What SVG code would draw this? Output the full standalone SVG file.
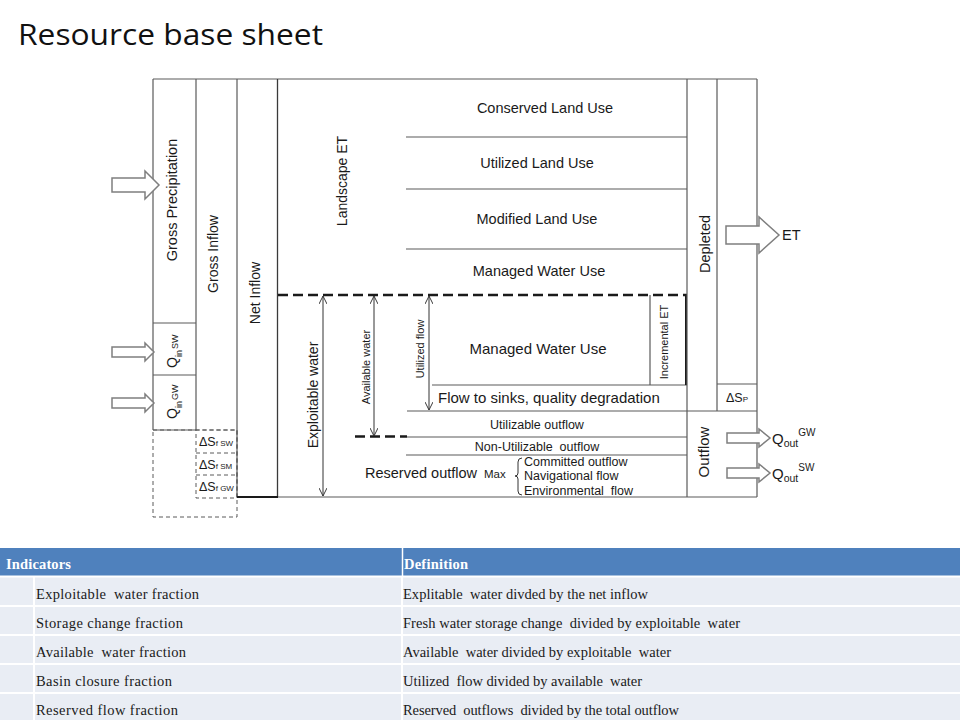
<svg xmlns="http://www.w3.org/2000/svg" width="960" height="720" viewBox="0 0 960 720">
<defs>
<style>
.ln{stroke:#5a5a5a;stroke-width:1.2;fill:none}
.dk{stroke:#1a1a1a;stroke-width:2;fill:none}
.dash{stroke:#1a1a1a;stroke-width:2.5;stroke-dasharray:10,5;fill:none}
.dot{stroke:#5a5a5a;stroke-width:1;stroke-dasharray:4,3;fill:none}
.blk{fill:#ffffff;stroke:#7f7f7f;stroke-width:1.5}
.t{font-family:"Liberation Sans",Arial,sans-serif;fill:#1a1a1a}
.tb{font-family:"Liberation Serif","Times New Roman",serif;fill:#1a1a1a;font-size:14.5px}
.th{font-family:"Liberation Serif","Times New Roman",serif;fill:#ffffff;font-size:14.5px;font-weight:bold}
.arr{stroke:#333;stroke-width:1;fill:none}
</style>
<marker id="ah" viewBox="0 0 10 10" refX="10" refY="5" markerWidth="8" markerHeight="8" orient="auto-start-reverse" markerUnits="userSpaceOnUse">
<path d="M0,0 L10,5 L0,10" fill="none" stroke="#333" stroke-width="1.2"/>
</marker>
</defs>
<rect x="0" y="0" width="960" height="720" fill="#ffffff"/>
<text x="18" y="45" font-family="'Open Sans','Noto Sans',sans-serif" font-size="30" fill="#111" textLength="305" lengthAdjust="spacingAndGlyphs">Resource base sheet</text>

<g id="frame">
<line class="ln" x1="153" y1="79" x2="757" y2="79"/>
<line class="ln" x1="757" y1="79" x2="757" y2="497"/>
<line class="ln" x1="237" y1="497" x2="757" y2="497"/>
</g>

<g id="gross-precipitation">
<line class="ln" x1="153" y1="79" x2="153" y2="430"/>
<line class="ln" x1="196" y1="79" x2="196" y2="430"/>
<line class="ln" x1="153" y1="430" x2="196" y2="430"/>
<text class="t" font-size="14.5" text-anchor="middle" transform="translate(177,200) rotate(-90)">Gross Precipitation</text>
</g>
<g id="qin-sw">
<line class="ln" x1="153" y1="323" x2="196" y2="323"/>
<text class="t" font-size="14" transform="translate(177,368) rotate(-90)">Q<tspan font-size="9" dy="5">in</tspan><tspan font-size="9" dy="-4" dx="1">SW</tspan></text>
</g>
<g id="qin-gw">
<line class="ln" x1="153" y1="375" x2="196" y2="375"/>
<text class="t" font-size="14" transform="translate(177,419) rotate(-90)">Q<tspan font-size="9" dy="5">in</tspan><tspan font-size="9" dy="-4" dx="1">GW</tspan></text>
</g>
<g id="gross-inflow">
<line class="ln" x1="237" y1="79" x2="237" y2="497"/>
<text class="t" font-size="14" text-anchor="middle" transform="translate(218,254) rotate(-90)">Gross Inflow</text>
</g>
<g id="storage-change">
<rect class="dot" x="153" y="430" width="84" height="87"/>
<rect class="dot" x="196" y="430" width="41" height="68"/>
<line class="dot" x1="196" y1="453" x2="237" y2="453"/>
<line class="dot" x1="196" y1="475" x2="237" y2="475"/>
<text class="t" font-size="12.5" x="199" y="446" fill="#333">ΔS<tspan font-size="8">f SW</tspan></text>
<text class="t" font-size="12.5" x="199" y="469" fill="#333">ΔS<tspan font-size="8">f SM</tspan></text>
<text class="t" font-size="12.5" x="199" y="491" fill="#333">ΔS<tspan font-size="8">f GW</tspan></text>
</g>
<g id="net-inflow">
<line x1="277.5" y1="79" x2="277.5" y2="497" stroke="#3a3a3a" stroke-width="1.3"/>
<line class="dk" x1="237" y1="497" x2="278" y2="497"/>
<text class="t" font-size="14" text-anchor="middle" transform="translate(260,293) rotate(-90)">Net Inflow</text>
</g>

<g id="landscape-et">
<text class="t" font-size="14" text-anchor="middle" transform="translate(347,181) rotate(-90)">Landscape ET</text>
<line class="ln" x1="406" y1="137" x2="687" y2="137"/>
<line class="ln" x1="406" y1="189" x2="687" y2="189"/>
<line class="ln" x1="406" y1="249" x2="687" y2="249"/>
<text class="t" font-size="14.5" text-anchor="middle" x="545" y="113">Conserved Land Use</text>
<text class="t" font-size="14.5" text-anchor="middle" x="537" y="168">Utilized Land Use</text>
<text class="t" font-size="14.5" text-anchor="middle" x="537" y="224">Modified Land Use</text>
<text class="t" font-size="14.5" text-anchor="middle" x="539" y="276">Managed Water Use</text>
</g>

<g id="exploitable-water">
<line class="dash" x1="278" y1="295" x2="687" y2="295"/>
<text class="t" font-size="14" text-anchor="middle" transform="translate(318,395) rotate(-90)">Exploitable water</text>
<text class="t" font-size="11" text-anchor="middle" transform="translate(370,367) rotate(-90)">Available water</text>
<line class="dash" x1="355" y1="436.5" x2="407" y2="436.5"/>
<text class="t" font-size="11" text-anchor="middle" transform="translate(424,349) rotate(-90)">Utilized flow</text>
</g>

<g id="managed-water-use">
<line class="ln" x1="432" y1="385" x2="687" y2="385"/>
<line class="ln" x1="650" y1="295" x2="650" y2="385"/>
<line class="dk" x1="686" y1="295" x2="686" y2="385"/>
<text class="t" font-size="15" text-anchor="middle" x="538" y="354">Managed Water Use</text>
<text class="t" font-size="11" text-anchor="middle" transform="translate(668,342) rotate(-90)">Incremental ET</text>
</g>
<g id="flow-to-sinks">
<line class="ln" x1="407" y1="411" x2="757" y2="411"/>
<text class="t" font-size="15" x="438" y="403">Flow to sinks, quality degradation</text>
</g>
<g id="utilizable-outflow">
<line class="ln" x1="407" y1="437" x2="687" y2="437"/>
<text class="t" font-size="12.5" text-anchor="middle" x="537" y="429">Utilizable outflow</text>
</g>
<g id="non-utilizable-outflow">
<line class="ln" x1="406" y1="455" x2="687" y2="455"/>
<text class="t" font-size="12.5" text-anchor="middle" x="537" y="451" xml:space="preserve">Non-Utilizable  outflow</text>
</g>
<g id="reserved-outflow">
<text class="t" font-size="14.5" x="365" y="478">Reserved outflow</text>
<text class="t" font-size="11.5" x="484" y="478">Max</text>
<path d="M522,458 Q518,458 518,462 L518,473 Q518,476 515,476 Q518,476 518,479 L518,491 Q518,495 522,495" class="arr"/>
<text class="t" font-size="12.5" x="524" y="466">Committed outflow</text>
<text class="t" font-size="12.5" x="524" y="480">Navigational flow</text>
<text class="t" font-size="12.5" x="524" y="495" xml:space="preserve">Environmental  flow</text>
</g>

<g id="depleted">
<line class="ln" x1="687" y1="79" x2="687" y2="497"/>
<line class="ln" x1="717" y1="79" x2="717" y2="411"/>
<text class="t" font-size="14.5" text-anchor="middle" transform="translate(710,244) rotate(-90)">Depleted</text>
</g>
<g id="delta-sp">
<line class="ln" x1="717" y1="384" x2="757" y2="384"/>
<text class="t" font-size="12.5" x="726" y="402" fill="#333">ΔS<tspan font-size="8">P</tspan></text>
</g>
<g id="outflow">
<text class="t" font-size="15" text-anchor="middle" transform="translate(709,452) rotate(-90)">Outflow</text>
</g>

<g id="arrows">
<polygon class="blk" points="112,178 145,178 145,171 159,185 145,199 145,192 112,192"/>
<polygon class="blk" points="112,347 145,347 145,343 154,352 145,361 145,357 112,357"/>
<polygon class="blk" points="112,398 145,398 145,394 154,403 145,412 145,408 112,408"/>
<polygon class="blk" points="726,226 759,226 759,217 779,235 759,253 759,244 726,244"/>
<polygon class="blk" points="727,433 759,433 759,429 770,438 759,447 759,443 727,443"/>
<polygon class="blk" points="727,468 759,468 759,464 770,473 759,482 759,478 727,478"/>
<text class="t" font-size="14.5" x="782" y="240">ET</text>
<text class="t" font-size="15" x="772" y="444">Q<tspan font-size="10.5" dy="3">out</tspan><tspan font-size="10" dy="-11">GW</tspan></text>
<text class="t" font-size="15" x="772" y="479">Q<tspan font-size="10.5" dy="3">out</tspan><tspan font-size="10" dy="-11">SW</tspan></text>
</g>

<g id="connectors">
<line class="arr" x1="323" y1="296" x2="323" y2="496" marker-start="url(#ah)" marker-end="url(#ah)"/>
<line class="arr" x1="374" y1="296" x2="374" y2="436" marker-start="url(#ah)" marker-end="url(#ah)"/>
<line class="arr" x1="429" y1="296" x2="429" y2="410" marker-start="url(#ah)" marker-end="url(#ah)"/>
</g>

<g id="table">
<rect x="0" y="548" width="960" height="28" fill="#4F81BD"/>
<line x1="402.5" y1="548" x2="402.5" y2="576" stroke="#ffffff" stroke-width="1.5"/>
<text class="th" x="6" y="569" textLength="65" lengthAdjust="spacing">Indicators</text>
<text class="th" x="404" y="569" textLength="64" lengthAdjust="spacing">Definition</text>
<rect x="0" y="577" width="960" height="143" fill="#E9EDF4"/>
<g stroke="#ffffff" stroke-width="2">
<line x1="0" y1="576.5" x2="960" y2="576.5"/>
<line x1="0" y1="606" x2="960" y2="606"/>
<line x1="0" y1="635" x2="960" y2="635"/>
<line x1="0" y1="664" x2="960" y2="664"/>
<line x1="0" y1="693" x2="960" y2="693"/>
<line x1="34" y1="577" x2="34" y2="720"/>
<line x1="402" y1="577" x2="402" y2="720"/>
</g>
<text class="tb" x="36" y="599" xml:space="preserve" textLength="163" lengthAdjust="spacing">Exploitable  water fraction</text>
<text class="tb" x="36" y="628" xml:space="preserve" textLength="147" lengthAdjust="spacing">Storage change fraction</text>
<text class="tb" x="36" y="657" xml:space="preserve" textLength="150" lengthAdjust="spacing">Available  water fraction</text>
<text class="tb" x="36" y="686" xml:space="preserve" textLength="136" lengthAdjust="spacing">Basin closure fraction</text>
<text class="tb" x="36" y="715" xml:space="preserve" textLength="142" lengthAdjust="spacing">Reserved flow fraction</text>
<text class="tb" x="403" y="599" xml:space="preserve" textLength="245" lengthAdjust="spacing">Explitable  water divded by the net inflow</text>
<text class="tb" x="403" y="628" xml:space="preserve" textLength="337" lengthAdjust="spacing">Fresh water storage change  divided by exploitable  water</text>
<text class="tb" x="403" y="657" xml:space="preserve" textLength="268" lengthAdjust="spacing">Available  water divided by exploitable  water</text>
<text class="tb" x="403" y="686" xml:space="preserve" textLength="239" lengthAdjust="spacing">Utilized  flow divided by available  water</text>
<text class="tb" x="403" y="715" xml:space="preserve" textLength="276" lengthAdjust="spacing">Reserved  outflows  divided by the total outflow</text>
</g>
</svg>
